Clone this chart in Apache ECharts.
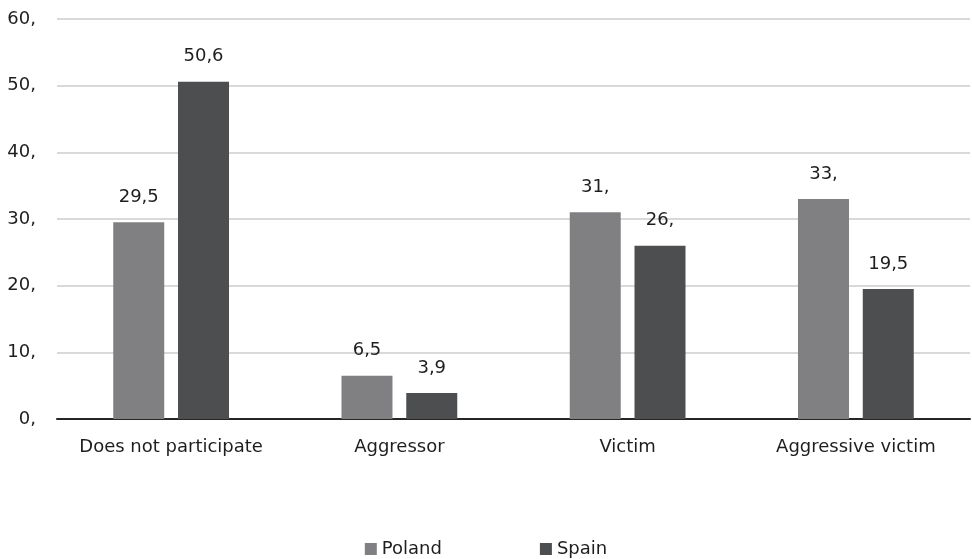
<!DOCTYPE html>
<html lang="en">
<head>
  <meta charset="UTF-8">
  <title>Chart</title>
  <script src="https://cdn.jsdelivr.net/npm/echarts@6/dist/echarts.min.js"></script>
  <style>
    html, body { margin: 0; padding: 0; background: #fff; }
    #chart { width: 972px; height: 559px; }
  </style>
</head>
<body>
<div id="chart"></div>
<script>
  var categories = ['Does not participate', 'Aggressor', 'Victim', 'Aggressive victim'];
  var seriesNames = ['Poland', 'Spain'];
  var poland = [29.5, 6.5, 31, 33];
  var spain = [50.6, 3.9, 26, 19.5];
  var colors = ['#808083', '#4d4e50'];

  // numbers printed with a decimal comma, integers keep a trailing comma
  function fmt(v) {
    var s = String(v).replace('.', ',');
    if (s.indexOf(',') < 0) s += ',';
    return s;
  }

  var font = 'DejaVu Sans';
  var txt = '#1e1e1e';
  var myChart = echarts.init(document.getElementById('chart'));

  var barLabel = {
    show: true, position: 'top', distance: 16,
    fontFamily: font, fontSize: 18, color: txt,
    formatter: function (p) { return fmt(p.value); }
  };

  var option = {
    animation: false,
    color: colors,
    grid: { left: 57, right: 2, top: 19, bottom: 140 },
    legend: {
      top: 535,
      left: 'center',
      itemWidth: 12,
      itemHeight: 12,
      itemGap: 98,
      icon: 'rect',
      textStyle: { fontFamily: font, fontSize: 18, color: txt },
      data: seriesNames
    },
    xAxis: {
      type: 'category',
      data: categories,
      axisTick: { show: false },
      axisLine: { lineStyle: { color: '#262626', width: 2 } },
      axisLabel: { fontFamily: font, fontSize: 18, color: txt, margin: 19, interval: 0 }
    },
    yAxis: {
      type: 'value',
      min: 0,
      max: 60,
      interval: 10,
      axisLine: { show: false },
      axisTick: { show: false },
      splitLine: { lineStyle: { color: '#d9d9d9', width: 2 } },
      axisLabel: {
        fontFamily: font, fontSize: 18, color: txt, margin: 21,
        formatter: fmt
      }
    },
    series: [
      {
        name: seriesNames[0],
        type: 'bar',
        data: poland,
        barWidth: 51,
        barGap: '27%',
        label: barLabel
      },
      {
        name: seriesNames[1],
        type: 'bar',
        data: spain,
        barWidth: 51,
        label: barLabel
      }
    ]
  };

  myChart.setOption(option);
</script>
</body>
</html>
